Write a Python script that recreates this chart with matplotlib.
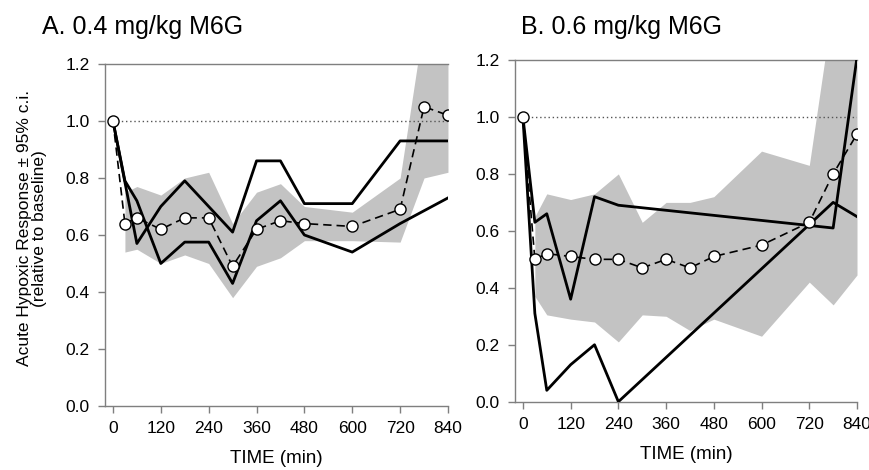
import numpy as np
import matplotlib
matplotlib.use("Agg")
import matplotlib.pyplot as plt

# =====================================================
# DATA
# =====================================================

# panel A: 0.4 mg/kg
time_a = [0, 30, 60, 120, 180, 240, 300, 360, 420, 480, 600, 720, 780, 840]
mean_a = [1.00, 0.64, 0.66, 0.62, 0.66, 0.66, 0.49, 0.62, 0.65, 0.64, 0.63, 0.69, 1.05, 1.02]

ci_time_a = [30, 60, 120, 180, 240, 300, 360, 420, 480, 600, 720, 780, 840]
ci_up_a = [0.75, 0.77, 0.74, 0.80, 0.82, 0.64, 0.75, 0.78, 0.70, 0.68, 0.80, 1.35, 1.35]
ci_lo_a = [0.54, 0.55, 0.50, 0.53, 0.50, 0.38, 0.49, 0.52, 0.58, 0.58, 0.575, 0.80, 0.82]

subj1_time_a = [0, 30, 60, 120, 180, 240, 300, 360, 420, 480, 600, 720, 840]
subj1_a = [1.00, 0.79, 0.72, 0.50, 0.575, 0.575, 0.43, 0.65, 0.72, 0.60, 0.54, 0.64, 0.73]

subj2_time_a = [0, 60, 120, 180, 240, 300, 360, 420, 480, 600, 720, 840]
subj2_a = [1.00, 0.57, 0.70, 0.79, 0.70, 0.61, 0.86, 0.86, 0.71, 0.71, 0.93, 0.93]

# panel B: 0.6 mg/kg
time_b = [0, 30, 60, 120, 180, 240, 300, 360, 420, 480, 600, 720, 780, 840]
mean_b = [1.00, 0.50, 0.52, 0.51, 0.50, 0.50, 0.47, 0.50, 0.47, 0.51, 0.55, 0.63, 0.80, 0.94]

ci_time_b = [30, 60, 120, 180, 240, 300, 360, 420, 480, 600, 720, 780, 840]
ci_up_b = [0.65, 0.73, 0.71, 0.73, 0.80, 0.63, 0.70, 0.70, 0.72, 0.88, 0.83, 1.40, 1.40]
ci_lo_b = [0.37, 0.305, 0.29, 0.28, 0.21, 0.305, 0.30, 0.25, 0.29, 0.23, 0.42, 0.34, 0.445]

subj1_time_b = [0, 30, 60, 120, 180, 240, 780, 840]
subj1_b = [1.00, 0.63, 0.66, 0.36, 0.72, 0.69, 0.61, 1.21]

subj2_time_b = [0, 30, 60, 120, 180, 240, 780, 840]
subj2_b = [1.00, 0.31, 0.04, 0.13, 0.20, 0.00, 0.70, 0.65]

titles = ["A. 0.4 mg/kg M6G", "B. 0.6 mg/kg M6G"]
x_ticks = [0, 120, 240, 360, 480, 600, 720, 840]
y_ticks = [0.0, 0.2, 0.4, 0.6, 0.8, 1.0, 1.2]

# =====================================================
# FIGURE
# =====================================================

plt.rcParams["font.family"] = ["Liberation Sans", "DejaVu Sans"]

fig = plt.figure(figsize=(8.69, 4.70), dpi=100)

ax_a = fig.add_axes([0.1208, 0.1362, 0.3947, 0.7277])
ax_b = fig.add_axes([0.5926, 0.1453, 0.3936, 0.7270])

panels = [
    (ax_a, time_a, mean_a, ci_time_a, ci_up_a, ci_lo_a,
     subj1_time_a, subj1_a, subj2_time_a, subj2_a),
    (ax_b, time_b, mean_b, ci_time_b, ci_up_b, ci_lo_b,
     subj1_time_b, subj1_b, subj2_time_b, subj2_b),
]

title_pos = [(0.048, 0.928), (0.600, 0.928)]

spine_color = "#7f7f7f"

for i, (ax, t, m, ct, up, lo, t1, s1, t2, s2) in enumerate(panels):

    ax.fill_between(ct, lo, up, color="#c3c3c3", linewidth=0, zorder=1)

    ax.plot([0, 840], [1.0, 1.0], color="#555555", linestyle=(0, (1, 2)),
            linewidth=1.0, zorder=2)

    ax.plot(t1, s1, color="black", linewidth=2.0, zorder=3)
    ax.plot(t2, s2, color="black", linewidth=2.0, zorder=3)

    ax.plot(t, m, color="black", linestyle=(0, (5, 3)), linewidth=1.2,
            marker="o", markersize=8, markerfacecolor="white",
            markeredgecolor="black", markeredgewidth=1.0, zorder=4)

    ax.set_xlim(-20, 840)
    ax.set_ylim(0, 1.2)

    ax.set_xticks(x_ticks)
    ax.set_yticks(y_ticks)
    ax.set_yticklabels([f"{v:.1f}" for v in y_ticks])

    ax.spines["right"].set_visible(False)
    for side in ["left", "bottom", "top"]:
        ax.spines[side].set_color(spine_color)
        ax.spines[side].set_linewidth(1.0)

    ax.tick_params(direction="out", length=5, width=1.0, color=spine_color,
                   labelsize=12.5, pad=6)

    ax.set_xlabel("TIME (min)", fontsize=13.5, labelpad=10)

    fig.text(title_pos[i][0], title_pos[i][1], titles[i], fontsize=18)

ax_a.set_ylabel("Acute Hypoxic Response ± 95% c.i.\n(relative to baseline)",
                fontsize=12.5, linespacing=1.0)
ax_a.yaxis.set_label_coords(-0.17, 0.52)

fig.savefig("out.png", dpi=100)
